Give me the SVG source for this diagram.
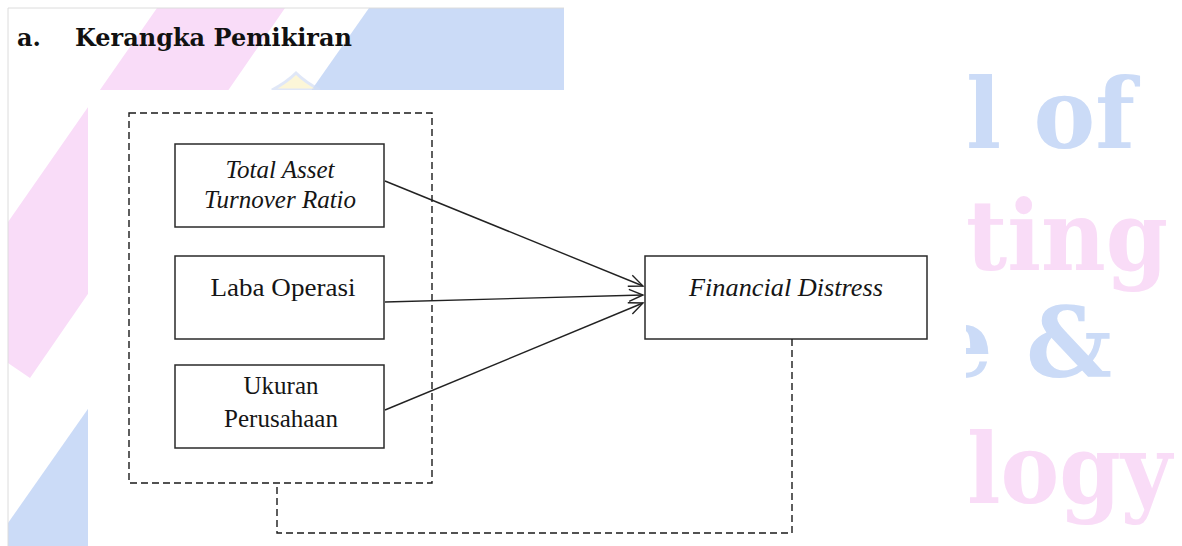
<svg xmlns="http://www.w3.org/2000/svg" width="1182" height="546" viewBox="0 0 1182 546">
  <defs>
    <style>
      .title { font-family: "DejaVu Serif", "Liberation Serif", serif; font-weight: bold; font-size: 24px; fill: #111; }
      .wm { font-family: "DejaVu Serif", "Liberation Serif", serif; font-weight: bold; font-size: 86px; }
      .wm-blue { fill: #cbdbf7; }
      .wm-pink { fill: #f9dcf7; }
      .box { fill: #ffffff; stroke: #2a2a2a; stroke-width: 1.5; }
      .label { font-family: "Liberation Serif", "Times New Roman", serif; font-size: 25px; fill: #151515; text-anchor: middle; }
      .it { font-style: italic; }
      .dash { fill: none; stroke: #1a1a1a; stroke-width: 1.4; stroke-dasharray: 7 4; }
      .arrow { fill: none; stroke: #222; stroke-width: 1.4; marker-end: url(#open); }
    </style>
    <marker id="open" markerUnits="userSpaceOnUse" markerWidth="18" markerHeight="16" refX="15" refY="7" orient="auto">
      <path d="M1,1 L15,7 L1,13" fill="none" stroke="#222" stroke-width="1.4"/>
    </marker>
  </defs>

  <!-- page background and watermark -->
  <rect x="0" y="0" width="1182" height="546" fill="#ffffff"/>
  <g id="watermark">
    <polygon points="157,8 285,8 30,378 8,363 8,222" fill="#f9dcf8"/>
    <polygon points="369,8 564,8 564,546 8,546 8,523" fill="#cbdbf7"/>
    <path d="M272,90 Q287,82 296,73 Q305,82 320,90 Z" fill="#fbf3c8" stroke="#d3def5" stroke-width="3" opacity="0.7"/>
    <line x1="8" y1="8" x2="564" y2="8" stroke="#dcdcdc" stroke-width="1"/>
    <line x1="8" y1="8" x2="8" y2="546" stroke="#dcdcdc" stroke-width="1"/>
    <text class="wm wm-blue" transform="translate(966,148) scale(1,1.14)" x="0" y="0" textLength="169" lengthAdjust="spacingAndGlyphs">l of</text>
    <text class="wm wm-pink" transform="translate(966,270) scale(1,1.14)" x="0" y="0" textLength="202" lengthAdjust="spacingAndGlyphs">ting</text>
    <text class="wm wm-blue" transform="translate(932,377) scale(1,1.14)" x="0" y="0" textLength="180" lengthAdjust="spacingAndGlyphs">e &amp;</text>
    <text class="wm wm-pink" transform="translate(967,503) scale(1,1.14)" x="0" y="0" textLength="205" lengthAdjust="spacingAndGlyphs">logy</text>
  </g>

  <!-- title -->
  <g id="title">
    <text class="title" x="17" y="46">a.</text>
    <text class="title" x="75" y="46" textLength="277" lengthAdjust="spacingAndGlyphs">Kerangka Pemikiran</text>
  </g>

  <!-- diagram canvas -->
  <rect x="88" y="90" width="878" height="456" fill="#ffffff"/>

  <g id="group-independent">
    <rect class="dash" x="129" y="113" width="303" height="370"/>
  </g>

  <g id="node-tatr">
    <rect class="box" x="175" y="144" width="209" height="83"/>
    <text class="label it" x="280" y="178">Total Asset</text>
    <text class="label it" x="280" y="208">Turnover Ratio</text>
  </g>

  <g id="node-laba">
    <rect class="box" x="175" y="256" width="209" height="83"/>
    <text class="label" x="283" y="296" textLength="145" lengthAdjust="spacingAndGlyphs">Laba Operasi</text>
  </g>

  <g id="node-ukuran">
    <rect class="box" x="175" y="365" width="209" height="83"/>
    <text class="label" x="281" y="394">Ukuran</text>
    <text class="label" x="281" y="427">Perusahaan</text>
  </g>

  <g id="node-fd">
    <rect class="box" x="645" y="256" width="282" height="83"/>
    <text class="label it" x="786" y="296" textLength="194" lengthAdjust="spacingAndGlyphs">Financial Distress</text>
  </g>

  <g id="connectors">
    <line class="arrow" x1="385" y1="181" x2="643" y2="286"/>
    <line class="arrow" x1="385" y1="302" x2="643" y2="295"/>
    <line class="arrow" x1="385" y1="410" x2="643" y2="303"/>
    <polyline class="dash" points="792,339 792,533 277,533 277,483"/>
  </g>
</svg>
